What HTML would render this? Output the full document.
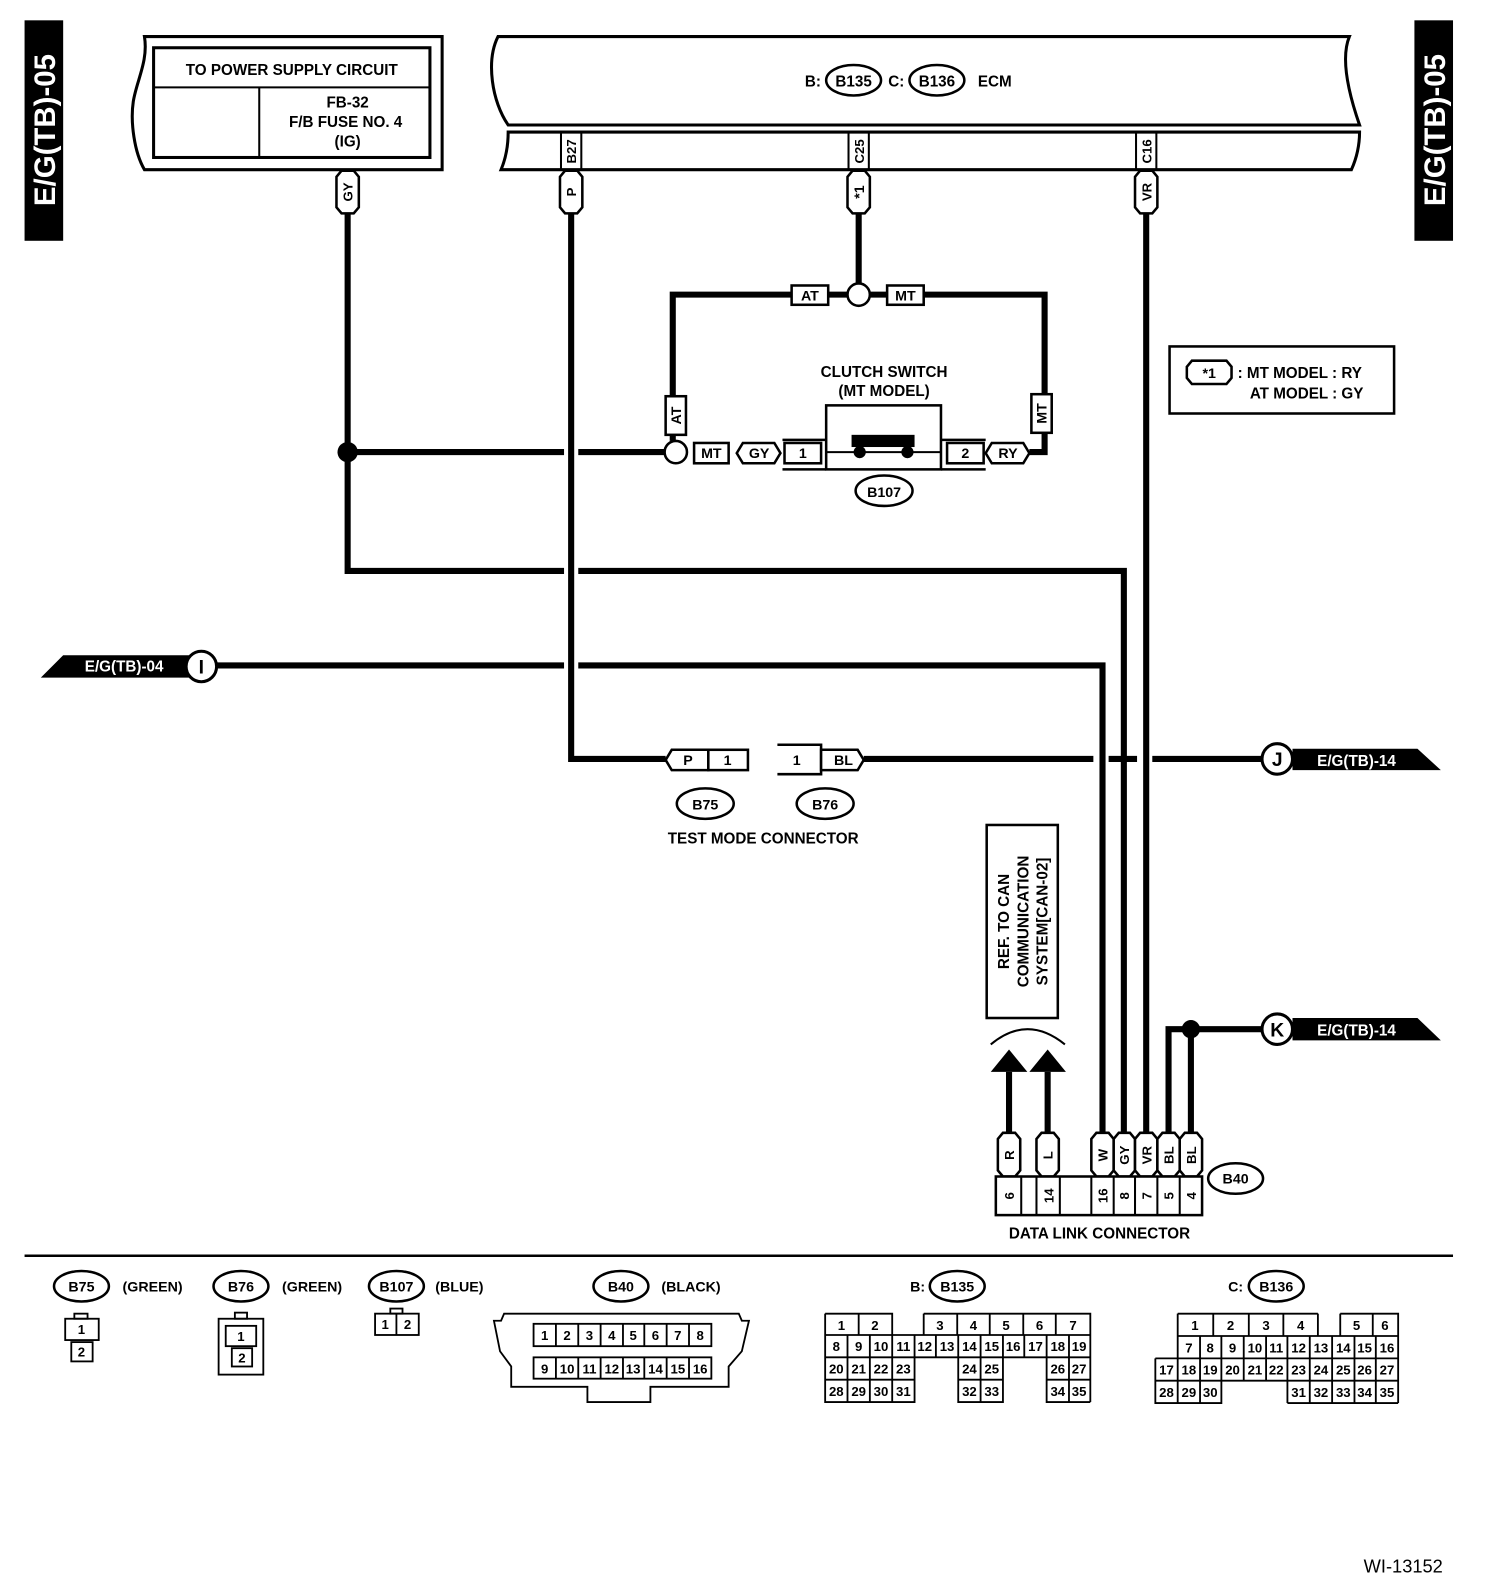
<!DOCTYPE html>
<html><head><meta charset="utf-8"><style>
html,body{margin:0;padding:0;background:#fff}
svg{display:block}
text{font-family:"Liberation Sans",sans-serif;font-weight:bold;fill:#000}
</style></head><body>
<svg width="1504" height="1590" viewBox="0 0 1480 1565" xmlns="http://www.w3.org/2000/svg">
<rect x="0" y="0" width="1480" height="1565" fill="#fff"/>
<rect x="24" y="20" width="38" height="217" fill="#000"/>
<text x="0" y="0" transform="translate(54,128) rotate(-90)" text-anchor="middle" font-size="29" style="fill:#fff">E/G(TB)-05</text>
<rect x="1392" y="20" width="38" height="217" fill="#000"/>
<text x="0" y="0" transform="translate(1422,128) rotate(-90)" text-anchor="middle" font-size="29" style="fill:#fff">E/G(TB)-05</text>

<g fill="none" stroke="#000">
<path d="M142,36 L435,36 L435,167 L142,167 C132,150 128,120 131,100 C134,80 146,60 142,36 Z" stroke-width="3" fill="#fff"/>
<rect x="151" y="47" width="272" height="108" stroke-width="3"/>
<line x1="151" y1="86" x2="423" y2="86" stroke-width="2"/>
<line x1="255" y1="86" x2="255" y2="155" stroke-width="2"/>
<path d="M490,36 L1328,36 C1318,60 1330,100 1338,123 L500,123 C484,100 478,60 490,36 Z" stroke-width="3"/>
<path d="M500,130 L1338,130 C1338,145 1334,158 1330,167 L493,167 C498,155 500,142 500,130 Z" stroke-width="3"/>
<line x1="552" y1="130" x2="552" y2="167" stroke-width="2"/><line x1="572" y1="130" x2="572" y2="167" stroke-width="2"/>
<line x1="835" y1="130" x2="835" y2="167" stroke-width="2"/><line x1="855" y1="130" x2="855" y2="167" stroke-width="2"/>
<line x1="1118" y1="130" x2="1118" y2="167" stroke-width="2"/><line x1="1138" y1="130" x2="1138" y2="167" stroke-width="2"/>
<ellipse cx="840" cy="79" rx="27" ry="15" stroke-width="2.5"/>
<ellipse cx="922" cy="79" rx="27" ry="15" stroke-width="2.5"/>
</g>
<text x="287" y="74" text-anchor="middle" font-size="15">TO POWER SUPPLY CIRCUIT</text>
<text x="342" y="106" text-anchor="middle" font-size="15">FB-32</text>
<text x="340" y="125" text-anchor="middle" font-size="15">F/B FUSE NO. 4</text>
<text x="342" y="144" text-anchor="middle" font-size="15">(IG)</text>
<text x="800" y="85" text-anchor="middle" font-size="15">B:</text>
<text x="840" y="85" text-anchor="middle" font-size="15">B135</text>
<text x="882" y="85" text-anchor="middle" font-size="15">C:</text>
<text x="922" y="85" text-anchor="middle" font-size="15">B136</text>
<text x="979" y="85" text-anchor="middle" font-size="15">ECM</text>
<text transform="translate(567,149) rotate(-90)" text-anchor="middle" font-size="13">B27</text>
<text transform="translate(850,149) rotate(-90)" text-anchor="middle" font-size="13">C25</text>
<text transform="translate(1133,149) rotate(-90)" text-anchor="middle" font-size="13">C16</text>

<g fill="none" stroke="#000" stroke-width="6">
<path d="M342,210 V562 H555"/>
<path d="M569,562 H1106 V1116"/>
<path d="M342,445 H555"/><path d="M569,445 H654"/>
<path d="M562,210 V747 H655"/>
<path d="M198,655 H555"/><path d="M569,655 H1085 V1116"/>
<path d="M1128,210 V1116"/>
<path d="M845,210 V279"/>
<path d="M856,290 H1028 V445 H1013"/>
<path d="M834,290 H662 V434"/>
<path d="M850,747 H1076"/><path d="M1091,747 H1119"/><path d="M1134,747 H1243"/>
<path d="M1243,1013 H1150 V1116"/><path d="M1172,1013 V1116"/>
<path d="M993,1055 V1116"/><path d="M1031,1055 V1116"/>
</g>
<circle cx="342" cy="445" r="10" fill="#000"/>
<circle cx="1172" cy="1013" r="9" fill="#000"/>
<circle cx="845" cy="290" r="11" fill="#fff" stroke="#000" stroke-width="2.5"/>
<circle cx="665" cy="445" r="11" fill="#fff" stroke="#000" stroke-width="2.5"/>
<polygon points="975,1055 993,1033 1011,1055" fill="#000"/>
<polygon points="1013,1055 1031,1033 1049,1055" fill="#000"/>
<path d="M975,1028 Q1011,998 1048,1028" fill="none" stroke="#000" stroke-width="2"/>

<g fill="#fff" stroke="#000" stroke-width="2.5">
<path d="M331,174 L336,168 L348,168 L353,174 L353,204 L348,210 L336,210 L331,204 Z"/>
<path d="M551,174 L556,168 L568,168 L573,174 L573,204 L568,210 L556,210 L551,204 Z"/>
<path d="M834,174 L839,168 L851,168 L856,174 L856,204 L851,210 L839,210 L834,204 Z"/>
<path d="M1117,174 L1122,168 L1134,168 L1139,174 L1139,204 L1134,210 L1122,210 L1117,204 Z"/>
<rect x="779" y="281" width="36" height="19"/>
<rect x="873" y="281" width="36" height="19"/>
<rect x="655" y="390" width="20" height="38"/>
<rect x="1015" y="388" width="20" height="38"/>
<rect x="683" y="436" width="34" height="20"/>
<path d="M725,446 L731,436 L762,436 L768,446 L762,456 L731,456 Z"/>
<path d="M970,446 L976,436 L1007,436 L1013,446 L1007,456 L976,456 Z"/>
</g>
<text transform="translate(347,189) rotate(-90)" text-anchor="middle" font-size="13">GY</text>
<text transform="translate(567,189) rotate(-90)" text-anchor="middle" font-size="13">P</text>
<text transform="translate(850,189) rotate(-90)" text-anchor="middle" font-size="14">*1</text>
<text transform="translate(1133,189) rotate(-90)" text-anchor="middle" font-size="13">VR</text>
<text x="797" y="296" text-anchor="middle" font-size="14">AT</text>
<text x="891" y="296" text-anchor="middle" font-size="14">MT</text>
<text transform="translate(670,409) rotate(-90)" text-anchor="middle" font-size="14">AT</text>
<text transform="translate(1030,407) rotate(-90)" text-anchor="middle" font-size="14">MT</text>
<text x="700" y="451" text-anchor="middle" font-size="14">MT</text>
<text x="747" y="451" text-anchor="middle" font-size="14">GY</text>
<text x="992" y="451" text-anchor="middle" font-size="14">RY</text>

<text x="870" y="371" text-anchor="middle" font-size="15">CLUTCH SWITCH</text>
<text x="870" y="390" text-anchor="middle" font-size="15">(MT MODEL)</text>
<g fill="none" stroke="#000" stroke-width="2.5">
<rect x="813" y="399" width="113" height="63" fill="#fff"/>
<line x1="813" y1="445" x2="926" y2="445" stroke-width="2"/>
<path d="M770,433 H813 M770,462 H813 M926,433 H970 M926,462 H970"/>
<rect x="772" y="436" width="36" height="20"/>
<rect x="932" y="436" width="36" height="20"/>
<ellipse cx="870" cy="483" rx="28" ry="15"/>
</g>
<rect x="838" y="428" width="62" height="12" fill="#000"/>
<circle cx="846" cy="445" r="6" fill="#000"/><circle cx="893" cy="445" r="6" fill="#000"/>
<text x="790" y="451" text-anchor="middle" font-size="14">1</text>
<text x="950" y="451" text-anchor="middle" font-size="14">2</text>
<text x="870" y="489" text-anchor="middle" font-size="14">B107</text>

<rect x="1151" y="341" width="221" height="66" fill="none" stroke="#000" stroke-width="2.5"/>
<path d="M1168,361 L1173,355 L1207,355 L1212,361 L1212,372 L1207,378 L1173,378 L1168,372 Z" fill="none" stroke="#000" stroke-width="2.5"/>
<text x="1190" y="372" text-anchor="middle" font-size="14">*1</text>
<text x="1218" y="372" font-size="15">: MT MODEL : RY</text>
<text x="1230" y="392" font-size="15">AT MODEL : GY</text>

<polygon points="40,667 62,645 186,645 186,667" fill="#000"/>
<text x="122" y="661" text-anchor="middle" font-size="15" style="fill:#fff">E/G(TB)-04</text>
<circle cx="198" cy="656" r="15" fill="#fff" stroke="#000" stroke-width="3"/>
<text x="198" y="663" text-anchor="middle" font-size="19">I</text>
<polygon points="1272,737 1395,737 1418,758 1272,758" fill="#000"/>
<text x="1335" y="754" text-anchor="middle" font-size="15" style="fill:#fff">E/G(TB)-14</text>
<circle cx="1257" cy="747" r="15" fill="#fff" stroke="#000" stroke-width="3"/>
<text x="1257" y="754" text-anchor="middle" font-size="19">J</text>
<polygon points="1272,1002 1395,1002 1418,1024 1272,1024" fill="#000"/>
<text x="1335" y="1019" text-anchor="middle" font-size="15" style="fill:#fff">E/G(TB)-14</text>
<circle cx="1257" cy="1013" r="15" fill="#fff" stroke="#000" stroke-width="3"/>
<text x="1257" y="1020" text-anchor="middle" font-size="19">K</text>

<g fill="#fff" stroke="#000" stroke-width="2.5">
<path d="M655,748 L661,738 L697,738 L697,758 L661,758 Z"/>
<rect x="697" y="738" width="39" height="20"/>
<path d="M765,733 H808 V762 H765"/>
<path d="M808,738 L844,738 L850,748 L844,758 L808,758 Z"/>
<ellipse cx="694" cy="791" rx="28" ry="15"/>
<ellipse cx="812" cy="791" rx="28" ry="15"/>
</g>
<text x="677" y="753" text-anchor="middle" font-size="14">P</text>
<text x="716" y="753" text-anchor="middle" font-size="14">1</text>
<text x="784" y="753" text-anchor="middle" font-size="14">1</text>
<text x="830" y="753" text-anchor="middle" font-size="14">BL</text>
<text x="694" y="797" text-anchor="middle" font-size="14">B75</text>
<text x="812" y="797" text-anchor="middle" font-size="14">B76</text>
<text x="751" y="830" text-anchor="middle" font-size="15">TEST MODE CONNECTOR</text>

<rect x="971" y="812" width="70" height="190" fill="#fff" stroke="#000" stroke-width="2.5"/>
<text transform="translate(993,907) rotate(-90)" text-anchor="middle" font-size="15">REF. TO CAN</text>
<text transform="translate(1012,907) rotate(-90)" text-anchor="middle" font-size="15">COMMUNICATION</text>
<text transform="translate(1031,907) rotate(-90)" text-anchor="middle" font-size="15">SYSTEM[CAN-02]</text>

<g fill="#fff" stroke="#000" stroke-width="2.5">
<path d="M982,1121 L987,1115 L999,1115 L1004,1121 L1004,1152 L999,1158 L987,1158 L982,1152 Z"/>
<path d="M1020,1121 L1025,1115 L1037,1115 L1042,1121 L1042,1152 L1037,1158 L1025,1158 L1020,1152 Z"/>
<path d="M1074,1121 L1079,1115 L1091,1115 L1096,1121 L1096,1152 L1091,1158 L1079,1158 L1074,1152 Z"/>
<path d="M1096,1121 L1101,1115 L1112,1115 L1117,1121 L1117,1152 L1112,1158 L1101,1158 L1096,1152 Z"/>
<path d="M1117,1121 L1122,1115 L1134,1115 L1139,1121 L1139,1152 L1134,1158 L1122,1158 L1117,1152 Z"/>
<path d="M1139,1121 L1144,1115 L1156,1115 L1161,1121 L1161,1152 L1156,1158 L1144,1158 L1139,1152 Z"/>
<path d="M1161,1121 L1166,1115 L1178,1115 L1183,1121 L1183,1152 L1178,1158 L1166,1158 L1161,1152 Z"/>
<rect x="980" y="1158" width="203" height="38"/>
<ellipse cx="1216" cy="1160" rx="27" ry="15"/>
</g>
<g stroke="#000" stroke-width="2"><path d="M1005,1158V1196 M1020,1158V1196 M1043,1158V1196 M1074,1158V1196 M1096,1158V1196 M1117,1158V1196 M1139,1158V1196 M1161,1158V1196"/></g>
<g font-size="13" text-anchor="middle">
<text transform="translate(998,1137) rotate(-90)">R</text>
<text transform="translate(1036,1137) rotate(-90)">L</text>
<text transform="translate(1090,1137) rotate(-90)">W</text>
<text transform="translate(1111,1137) rotate(-90)">GY</text>
<text transform="translate(1133,1137) rotate(-90)">VR</text>
<text transform="translate(1155,1137) rotate(-90)">BL</text>
<text transform="translate(1177,1137) rotate(-90)">BL</text>
<text transform="translate(998,1177) rotate(-90)">6</text>
<text transform="translate(1037,1177) rotate(-90)">14</text>
<text transform="translate(1090,1177) rotate(-90)">16</text>
<text transform="translate(1111,1177) rotate(-90)">8</text>
<text transform="translate(1133,1177) rotate(-90)">7</text>
<text transform="translate(1155,1177) rotate(-90)">5</text>
<text transform="translate(1177,1177) rotate(-90)">4</text>
</g>
<text x="1216" y="1165" text-anchor="middle" font-size="14">B40</text>
<text x="1082" y="1219" text-anchor="middle" font-size="15">DATA LINK CONNECTOR</text>

<line x1="24" y1="1236" x2="1430" y2="1236" stroke="#000" stroke-width="2.5"/>

<g fill="#fff" stroke="#000" stroke-width="2.5">
<ellipse cx="80" cy="1266" rx="27" ry="15"/>
<ellipse cx="237" cy="1266" rx="27" ry="15"/>
<ellipse cx="390" cy="1266" rx="27" ry="15"/>
<ellipse cx="611" cy="1266" rx="27" ry="15"/>
<ellipse cx="942" cy="1266" rx="27" ry="15"/>
<ellipse cx="1256" cy="1266" rx="27" ry="15"/>
</g>
<g font-size="14" text-anchor="middle">
<text x="80" y="1271">B75</text><text x="150" y="1271">(GREEN)</text>
<text x="237" y="1271">B76</text><text x="307" y="1271">(GREEN)</text>
<text x="390" y="1271">B107</text><text x="452" y="1271">(BLUE)</text>
<text x="611" y="1271">B40</text><text x="680" y="1271">(BLACK)</text>
<text x="903" y="1271">B:</text><text x="942" y="1271">B135</text>
<text x="1216" y="1271">C:</text><text x="1256" y="1271">B136</text>
</g>

<g fill="none" stroke="#000" stroke-width="1.8">
<rect x="73" y="1293" width="13" height="5"/>
<rect x="64" y="1298" width="33" height="21"/>
<rect x="70" y="1321" width="21" height="19"/>
<rect x="215" y="1298" width="44" height="55"/>
<rect x="231" y="1292" width="12" height="6"/>
<rect x="222" y="1305" width="30" height="20"/>
<rect x="228" y="1327" width="20" height="18"/>
<rect x="384" y="1288" width="12" height="5"/>
<rect x="369" y="1293" width="43" height="21"/>
<line x1="390" y1="1293" x2="390" y2="1314"/>
<path d="M496,1293 H727 L730,1300 H737 L730,1330 L717,1345 L717,1365 L640,1365 L640,1380 L578,1380 L578,1365 L503,1365 L503,1345 L492,1330 L486,1300 H493 Z"/>
<rect x="525" y="1303" width="175" height="22"/>
<rect x="525" y="1336" width="175" height="21"/>
<path d="M547,1303V1325 M569,1303V1325 M591,1303V1325 M613,1303V1325 M634,1303V1325 M656,1303V1325 M678,1303V1325"/>
<path d="M547,1336V1357 M569,1336V1357 M591,1336V1357 M613,1336V1357 M634,1336V1357 M656,1336V1357 M678,1336V1357"/>
</g>
<g font-size="13" text-anchor="middle" style="font-weight:normal">
<text x="80" y="1313">1</text><text x="80" y="1335">2</text>
<text x="237" y="1320">1</text><text x="238" y="1341">2</text>
<text x="379" y="1308">1</text><text x="401" y="1308">2</text>
<text x="536" y="1319">1</text><text x="558" y="1319">2</text><text x="580" y="1319">3</text><text x="602" y="1319">4</text><text x="623" y="1319">5</text><text x="645" y="1319">6</text><text x="667" y="1319">7</text><text x="689" y="1319">8</text>
<text x="536" y="1352">9</text><text x="558" y="1352">10</text><text x="580" y="1352">11</text><text x="602" y="1352">12</text><text x="623" y="1352">13</text><text x="645" y="1352">14</text><text x="667" y="1352">15</text><text x="689" y="1352">16</text>
</g>

<g fill="none" stroke="#000" stroke-width="1.8">
<path d="M812,1293 H878 V1314 M909,1293 H1073 V1380 M812,1293 V1380 H900 V1336 M943,1336 V1380 H987 V1336 M1030,1336 V1380 H1073"/>
<path d="M812,1314 H1073 M812,1336 H1073 M812,1358 H900 M943,1358 H987 M1030,1358 H1073"/>
<path d="M845,1293V1314 M909,1293V1314 M942,1293V1314 M974,1293V1314 M1007,1293V1314 M1039,1293V1314"/>
<path d="M834,1314V1380 M856,1314V1380 M878,1314V1380 M900,1314V1336 M921,1314V1336 M943,1314V1336 M965,1314V1380 M987,1314V1336 M1008,1314V1336 M1030,1314V1336 M1052,1314V1380"/>
</g>
<g font-size="13" text-anchor="middle" style="font-weight:normal">
<text x="828" y="1309">1</text><text x="861" y="1309">2</text><text x="925" y="1309">3</text><text x="958" y="1309">4</text><text x="990" y="1309">5</text><text x="1023" y="1309">6</text><text x="1056" y="1309">7</text>
<text x="823" y="1330">8</text><text x="845" y="1330">9</text><text x="867" y="1330">10</text><text x="889" y="1330">11</text><text x="910" y="1330">12</text><text x="932" y="1330">13</text><text x="954" y="1330">14</text><text x="976" y="1330">15</text><text x="997" y="1330">16</text><text x="1019" y="1330">17</text><text x="1041" y="1330">18</text><text x="1062" y="1330">19</text>
<text x="823" y="1352">20</text><text x="845" y="1352">21</text><text x="867" y="1352">22</text><text x="889" y="1352">23</text><text x="954" y="1352">24</text><text x="976" y="1352">25</text><text x="1041" y="1352">26</text><text x="1062" y="1352">27</text>
<text x="823" y="1374">28</text><text x="845" y="1374">29</text><text x="867" y="1374">30</text><text x="889" y="1374">31</text><text x="954" y="1374">32</text><text x="976" y="1374">33</text><text x="1041" y="1374">34</text><text x="1062" y="1374">35</text>
</g>

<g fill="none" stroke="#000" stroke-width="1.8">
<path d="M1159,1293 H1297 M1319,1293 H1376 V1381 M1159,1293 V1337 M1137,1337 V1381 H1202 V1359 M1267,1381 H1376 M1267,1359 V1381"/>
<path d="M1159,1315 H1376 M1137,1337 H1376 M1137,1359 H1376"/>
<path d="M1194,1293V1315 M1229,1293V1315 M1263,1293V1315 M1297,1293V1315 M1319,1293V1315 M1351,1293V1315"/>
<path d="M1181,1315V1337 M1202,1315V1337 M1224,1315V1337 M1246,1315V1337 M1267,1315V1337 M1289,1315V1337 M1311,1315V1337 M1333,1315V1337 M1354,1315V1337"/>
<path d="M1159,1337V1381 M1181,1337V1381 M1202,1337V1359 M1224,1337V1359 M1246,1337V1359 M1289,1337V1381 M1311,1337V1381 M1333,1337V1381 M1354,1337V1381 M1267,1337V1359"/>
</g>
<g font-size="13" text-anchor="middle" style="font-weight:normal">
<text x="1176" y="1309">1</text><text x="1211" y="1309">2</text><text x="1246" y="1309">3</text><text x="1280" y="1309">4</text><text x="1335" y="1309">5</text><text x="1363" y="1309">6</text>
<text x="1170" y="1331">7</text><text x="1191" y="1331">8</text><text x="1213" y="1331">9</text><text x="1235" y="1331">10</text><text x="1256" y="1331">11</text><text x="1278" y="1331">12</text><text x="1300" y="1331">13</text><text x="1322" y="1331">14</text><text x="1343" y="1331">15</text><text x="1365" y="1331">16</text>
<text x="1148" y="1353">17</text><text x="1170" y="1353">18</text><text x="1191" y="1353">19</text><text x="1213" y="1353">20</text><text x="1235" y="1353">21</text><text x="1256" y="1353">22</text><text x="1278" y="1353">23</text><text x="1300" y="1353">24</text><text x="1322" y="1353">25</text><text x="1343" y="1353">26</text><text x="1365" y="1353">27</text>
<text x="1148" y="1375">28</text><text x="1170" y="1375">29</text><text x="1191" y="1375">30</text><text x="1278" y="1375">31</text><text x="1300" y="1375">32</text><text x="1322" y="1375">33</text><text x="1343" y="1375">34</text><text x="1365" y="1375">35</text>
</g>

<text x="1420" y="1548" text-anchor="end" font-size="18" style="font-weight:normal">WI-13152</text>
</svg>
</body></html>
